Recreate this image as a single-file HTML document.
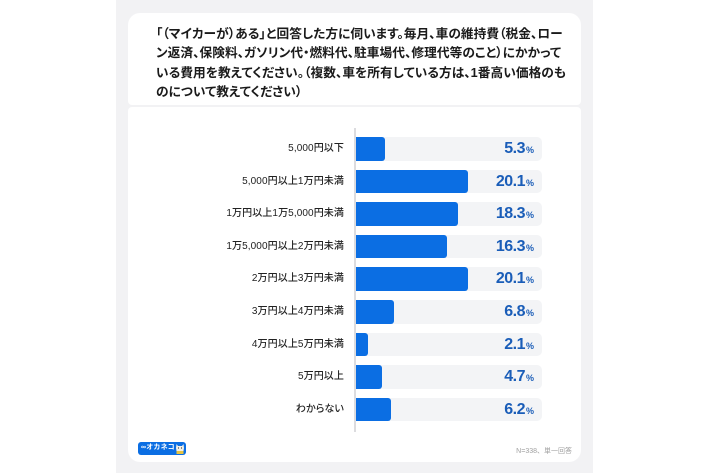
<!DOCTYPE html>
<html><head><meta charset="utf-8">
<style>
*{margin:0;padding:0;box-sizing:border-box}
html,body{width:710px;height:474px;background:#fff;overflow:hidden;position:relative;font-family:"Liberation Sans","Noto Sans CJK JP",sans-serif}
.bg{position:absolute;left:116px;top:0;width:477px;height:473px;background:#f2f2f4}
.card{position:absolute;left:128px;width:453px;background:#fff;border-radius:12px}
.title{position:absolute;left:156px;top:25px;font-size:12.7px;font-weight:700;line-height:19.4px;color:#1a1a1a;white-space:nowrap;font-feature-settings:"palt";letter-spacing:0.05px}
.axis{position:absolute;left:354px;top:128px;width:2px;height:304px;background:#dcdcdf}
.track{position:absolute;left:356px;width:186px;height:23.5px;background:#f3f4f6;border-radius:0 5px 5px 0}
.bar{position:absolute;left:356px;height:23.5px;background:#0b6ee3;border-radius:0 3px 3px 0}
.lab{position:absolute;right:366px;font-size:10px;font-weight:500;color:#222;white-space:nowrap;line-height:23.5px;font-feature-settings:"palt";letter-spacing:0.1px}
.val{position:absolute;right:176px;line-height:23.5px;white-space:nowrap;color:#1a5db8;font-weight:700}
.val b{font-size:16px;letter-spacing:-0.5px}
.val i{font-style:normal;font-size:9px;margin-left:1px}
.logo{position:absolute;left:138px;top:442px;width:48px;height:12.5px;background:#0b6ee3;border-radius:3px;color:#fff;font-size:7px;font-weight:700;line-height:12.5px;padding-left:3px;white-space:nowrap;letter-spacing:0.2px}
.foot{position:absolute;right:138px;top:446px;font-size:7px;color:#a0a0a0;white-space:nowrap}
</style></head><body>
<div class="bg"></div>
<div class="card" style="top:13px;height:92px;border-radius:12px 12px 4px 4px"></div>
<div class="card" style="top:107px;height:355px;border-radius:4px 4px 12px 12px"></div>
<div class="title">「（マイカーが）ある」と回答した方に伺います。毎月、車の維持費（税金、ロー<br>ン返済、保険料、ガソリン代・燃料代、駐車場代、修理代等のこと）にかかって<br>いる費用を教えてください。（複数、車を所有している方は、1番高い価格のも<br>のについて教えてください）</div>
<div class="axis"></div>

<div class="track" style="top:137px"></div><div class="bar" style="top:137px;width:29px"></div>
<div class="lab" style="top:137px">5,000円以下</div><div class="val" style="top:137px"><b>5.3</b><i>%</i></div>

<div class="track" style="top:169.6px"></div><div class="bar" style="top:169.6px;width:112px"></div>
<div class="lab" style="top:169.6px">5,000円以上1万円未満</div><div class="val" style="top:169.6px"><b>20.1</b><i>%</i></div>

<div class="track" style="top:202.2px"></div><div class="bar" style="top:202.2px;width:102px"></div>
<div class="lab" style="top:202.2px">1万円以上1万5,000円未満</div><div class="val" style="top:202.2px"><b>18.3</b><i>%</i></div>

<div class="track" style="top:234.8px"></div><div class="bar" style="top:234.8px;width:91px"></div>
<div class="lab" style="top:234.8px">1万5,000円以上2万円未満</div><div class="val" style="top:234.8px"><b>16.3</b><i>%</i></div>

<div class="track" style="top:267.4px"></div><div class="bar" style="top:267.4px;width:112px"></div>
<div class="lab" style="top:267.4px">2万円以上3万円未満</div><div class="val" style="top:267.4px"><b>20.1</b><i>%</i></div>

<div class="track" style="top:300px"></div><div class="bar" style="top:300px;width:38px"></div>
<div class="lab" style="top:300px">3万円以上4万円未満</div><div class="val" style="top:300px"><b>6.8</b><i>%</i></div>

<div class="track" style="top:332.6px"></div><div class="bar" style="top:332.6px;width:12px"></div>
<div class="lab" style="top:332.6px">4万円以上5万円未満</div><div class="val" style="top:332.6px"><b>2.1</b><i>%</i></div>

<div class="track" style="top:365.2px"></div><div class="bar" style="top:365.2px;width:26px"></div>
<div class="lab" style="top:365.2px">5万円以上</div><div class="val" style="top:365.2px"><b>4.7</b><i>%</i></div>

<div class="track" style="top:397.8px"></div><div class="bar" style="top:397.8px;width:35px"></div>
<div class="lab" style="top:397.8px">わからない</div><div class="val" style="top:397.8px"><b>6.2</b><i>%</i></div>

<div class="logo">∞オカネコ
<svg style="position:absolute;left:37px;top:0" width="10" height="12.5" viewBox="0 0 10 12.5">
<path d="M1.5 2 L3 4 L7 4 L8.5 2 L9 6 L8.5 9 L1.5 9 L1 6 Z" fill="#f3f0e6"/>
<rect x="1.5" y="9" width="7" height="3" fill="#e8c440"/>
<circle cx="3.5" cy="6" r="0.6" fill="#333"/><circle cx="6.5" cy="6" r="0.6" fill="#333"/>
</svg>
</div>
<div class="foot">N=338、単一回答</div>
</body></html>
